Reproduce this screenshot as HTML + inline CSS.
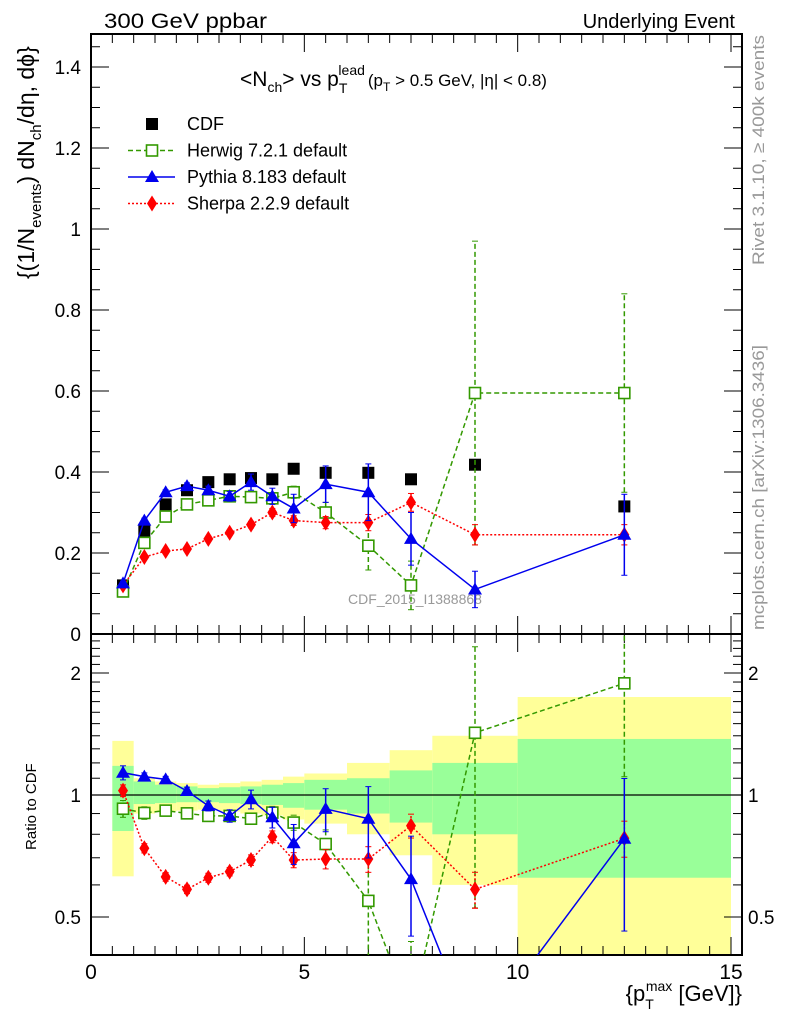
<!DOCTYPE html>
<html><head><meta charset="utf-8"><style>
body{margin:0;background:#fff;overflow:hidden;}
svg{font-family:"Liberation Sans",sans-serif;display:block;overflow:hidden;}
</style></head><body>
<svg id="c" width="786" height="1024" xmlns="http://www.w3.org/2000/svg">
<text x="104" y="28" font-size="21" textLength="163" lengthAdjust="spacingAndGlyphs">300 GeV ppbar</text>
<text x="735" y="28" font-size="20" text-anchor="end">Underlying Event</text>
<text transform="translate(764,265) rotate(-90)" font-size="17" fill="#999" textLength="230" lengthAdjust="spacingAndGlyphs">Rivet 3.1.10, ≥ 400k events</text>
<text transform="translate(764,630) rotate(-90)" font-size="17" fill="#999" textLength="285" lengthAdjust="spacingAndGlyphs">mcplots.cern.ch [arXiv:1306.3436]</text>
<text transform="translate(34,279) rotate(-90)" font-size="23">{(1/N<tspan font-size="15" dy="7">events</tspan><tspan dy="-7">) dN</tspan><tspan font-size="15" dy="7">ch</tspan><tspan dy="-7">/dη, dϕ}</tspan></text>
<text transform="translate(36,850) rotate(-90)" font-size="15">Ratio to CDF</text>
<text x="240" y="86" font-size="21">&lt;N<tspan font-size="14" dy="6">ch</tspan><tspan dy="-6">&gt; vs p</tspan><tspan font-size="14" dy="7">T</tspan><tspan font-size="14" dx="-9" dy="-18">lead</tspan><tspan font-size="17" dy="11" dx="3">(p</tspan><tspan font-size="12" dy="5">T</tspan><tspan font-size="17" dy="-5"> &gt; 0.5 GeV, |η| &lt; 0.8)</tspan></text>
<text x="742" y="1001" font-size="22" text-anchor="end">{p<tspan font-size="14" dy="8">T</tspan><tspan font-size="14" dx="-8" dy="-18">max</tspan><tspan dy="10"> [GeV]}</tspan></text>
<g id="g"></g>
</svg>
<script>
const xCenters=[0.75,1.25,1.75,2.25,2.75,3.25,3.75,4.25,4.75,5.5,6.5,7.5,9,12.5];
const binEdges=[0.5,1,1.5,2,2.5,3,3.5,4,4.5,5,6,7,8,10,15];
const cdfVals=[0.12,0.255,0.32,0.355,0.375,0.382,0.385,0.382,0.408,0.398,0.398,0.382,0.418,0.315];
const herwigVals=[0.105,0.225,0.29,0.32,0.33,0.34,0.338,0.335,0.35,0.30,0.218,0.12,0.595,0.595];
const herwigErr=[0.005,0.008,0.008,0.008,0.008,0.008,0.01,0.012,0.015,0.025,0.06,0.06,0.375,0.245];
const pythiaVals=[0.125,0.28,0.35,0.365,0.355,0.34,0.375,0.34,0.31,0.37,0.35,0.235,0.11,0.245];
const pythiaErr=[0.005,0.006,0.006,0.008,0.01,0.012,0.02,0.02,0.035,0.045,0.07,0.065,0.045,0.1];
const sherpaVals=[0.12,0.19,0.205,0.21,0.235,0.25,0.27,0.30,0.28,0.275,0.275,0.325,0.245,0.245];
const sherpaErr=[0.004,0.005,0.005,0.005,0.006,0.006,0.008,0.01,0.012,0.015,0.02,0.022,0.025,0.025];
const herwigRatio=[0.925,0.903,0.915,0.901,0.888,0.888,0.874,0.905,0.855,0.757,0.548,0.29,1.424,1.886];
const pythiaRatio=[1.135,1.11,1.093,1.023,0.94,0.888,0.976,0.881,0.76,0.924,0.874,0.62,0.25,0.78];
const sherpaRatio=[1.025,0.739,0.628,0.585,0.625,0.647,0.691,0.789,0.691,0.695,0.695,0.84,0.585,0.782];
const greenHi=[1.18,1.08,1.06,1.05,1.04,1.045,1.05,1.06,1.07,1.09,1.1,1.15,1.2,1.375];
const greenLo=[0.815,0.95,0.955,0.96,0.96,0.955,0.95,0.945,0.93,0.92,0.9,0.855,0.8,0.625];
const yellowHi=[1.36,1.1,1.08,1.07,1.06,1.07,1.08,1.09,1.11,1.13,1.2,1.29,1.4,1.745];
const yellowLo=[0.63,0.9,0.91,0.915,0.92,0.91,0.9,0.89,0.87,0.85,0.8,0.71,0.6,0.3];
const yTicks=["0","0.2","0.4","0.6","0.8","1","1.2","1.4"];
const xTicks=["0","5","10","15"];
const rTicks=["0.5","1","2"];
const NS="http://www.w3.org/2000/svg",G=document.getElementById('g');
const L=91,R=742,T=34,MB=634,RB=955;
const sx=v=>L+v*(731-L)/15;
const sy=v=>MB-v*405;
const ry=v=>Math.max(MB,Math.min(RB,795-Math.log2(v)*122));
const ryc=v=>795-Math.log2(v)*122;
function mk(t,a,p){const e=document.createElementNS(NS,t);for(const k in a)e.setAttribute(k,a[k]);(p||G).appendChild(e);return e;}
const bands=mk('g',{});
for(let i=0;i<binEdges.length-1;i++){
 const x0=sx(binEdges[i]),x1=sx(binEdges[i+1]);
 const y=mk('rect',{x:x0,y:ry(yellowHi[i]),width:x1-x0,height:ry(yellowLo[i])-ry(yellowHi[i]),fill:'#ffff99'},bands);
 
 const g=mk('rect',{x:x0,y:ry(greenHi[i]),width:x1-x0,height:ry(greenLo[i])-ry(greenHi[i]),fill:'#99ff99'},bands);
 
}
mk('line',{x1:L,x2:R,y1:ryc(1),y2:ryc(1),stroke:'#000','stroke-width':1.2});
mk('rect',{x:L,y:T,width:R-L,height:MB-T,fill:'none',stroke:'#000','stroke-width':2});
mk('rect',{x:L,y:MB,width:R-L,height:RB-MB,fill:'none',stroke:'#000','stroke-width':2});
for(let v=0;v<=15.2;v+=0.5){const maj=Math.abs(v%5)<1e-6;const len=maj?18:9;const x=sx(v);
 for(const [b,t] of [[MB,T],[RB,MB]]){mk('line',{x1:x,x2:x,y1:b,y2:b-len,stroke:'#000'});mk('line',{x1:x,x2:x,y1:t,y2:t+len,stroke:'#000'});}}
for(let v=0;v<=1.48;v+=0.05){const maj=Math.round(v*100)%20===0;const len=maj?18:9;const y=sy(v);
 mk('line',{x1:L,x2:L+len,y1:y,y2:y,stroke:'#000'});mk('line',{x1:R,x2:R-len,y1:y,y2:y,stroke:'#000'});}
for(let v=0.4;v<=2.5;v+=0.1){const y=ryc(v);if(y<MB||y>RB)continue;const maj=[0.5,1,2].some(m=>Math.abs(m-v)<1e-6);const len=maj?18:9;
 mk('line',{x1:L,x2:L+len,y1:y,y2:y,stroke:'#000'});mk('line',{x1:R,x2:R-len,y1:y,y2:y,stroke:'#000'});}
yTicks.forEach(t=>{const e=mk('text',{x:81,y:sy(+t)+7,'font-size':19,'text-anchor':'end'});e.textContent=t;});
xTicks.forEach(t=>{const e=mk('text',{x:sx(+t),y:979,'font-size':21,'text-anchor':'middle'});e.textContent=t;});
rTicks.forEach(t=>{const y=ryc(+t)+7;
 const a=mk('text',{x:81,y:y,'font-size':19,'text-anchor':'end'});a.textContent=t;
 const b=mk('text',{x:748,y:y,'font-size':19});b.textContent=t;});
const wm=mk('text',{x:415,y:604,'font-size':14,fill:'#999','text-anchor':'middle'});wm.textContent='CDF_2015_I1388868';

function marker(kind,x,y,col,p){
 if(kind==='sq')return mk('rect',{x:x-6,y:y-6,width:12,height:12,fill:col},p);
 if(kind==='osq')return mk('rect',{x:x-5.5,y:y-5.5,width:11,height:11,fill:'#fff',stroke:col,'stroke-width':1.6},p);
 if(kind==='tri')return mk('polygon',{points:`${x},${y-7} ${x-7},${y+5} ${x+7},${y+5}`,fill:col},p);
 return mk('polygon',{points:`${x},${y-8} ${x-5},${y} ${x},${y+8} ${x+5},${y}`,fill:col},p);}
function series(name,vals,err,ys,col,dash,kind,clipTop,clipBot){
 const g=mk('g',{});
 const cid='clip'+name;const cp=mk('clipPath',{id:cid},g);mk('rect',{x:L,y:clipTop,width:R-L,height:clipBot-clipTop},cp);
 const inner=mk('g',{'clip-path':`url(#${cid})`},g);
 if(kind!=='sq'){
 mk('polyline',{points:vals.map((v,i)=>sx(xCenters[i])+','+ys(v)).join(' '),fill:'none',stroke:col,'stroke-width':1.5,'stroke-dasharray':dash},inner);}
 vals.forEach((v,i)=>{const x=sx(xCenters[i]);
  if(err){const e=err[i];const a=ys(Math.max(v-e,0.001)),b=ys(v+e);
   mk('line',{x1:x,x2:x,y1:a,y2:b,stroke:col,'stroke-width':1.5,'stroke-dasharray':dash},inner);
   mk('line',{x1:x-3,x2:x+3,y1:a,y2:a,stroke:col},inner);mk('line',{x1:x-3,x2:x+3,y1:b,y2:b,stroke:col},inner);}
  const m=marker(kind,x,ys(v),col,inner);});}
series('cdf-data',cdfVals,null,sy,'#000','','sq',T,MB);
series('herwig',herwigVals,herwigErr,sy,'#339900','5,3','osq',T,MB);
series('sherpa',sherpaVals,sherpaErr,sy,'#ff0000','2,2','dia',T,MB);
series('pythia',pythiaVals,pythiaErr,sy,'#0000ee','','tri',T,MB);
const relH=herwigErr.map((e,i)=>e/herwigVals[i]),relP=pythiaErr.map((e,i)=>e/pythiaVals[i]),relS=sherpaErr.map((e,i)=>e/sherpaVals[i]);
series('herwig-ratio',herwigRatio,herwigRatio.map((r,i)=>r*relH[i]),ryc,'#339900','5,3','osq',MB,RB);
series('sherpa-ratio',sherpaRatio,sherpaRatio.map((r,i)=>r*relS[i]),ryc,'#ff0000','2,2','dia',MB,RB);
series('pythia-ratio',pythiaRatio,pythiaRatio.map((r,i)=>r*relP[i]),ryc,'#0000ee','','tri',MB,RB);
const leg=[['CDF','#000','','sq'],['Herwig 7.2.1 default','#339900','5,3','osq'],['Pythia 8.183 default','#0000ee','','tri'],['Sherpa 2.2.9 default','#ff0000','2,2','dia']];
leg.forEach((l,i)=>{const y=124+i*26.5;const g=mk('g',{});
 if(l[3]!=='sq')mk('line',{x1:128,x2:175,y1:y,y2:y,stroke:l[1],'stroke-width':1.5,'stroke-dasharray':l[2]},g);
 marker(l[3],152,y,l[1],g);const t=mk('text',{x:187,y:y+6,'font-size':18},g);t.textContent=l[0];});
</script>
</body></html>
